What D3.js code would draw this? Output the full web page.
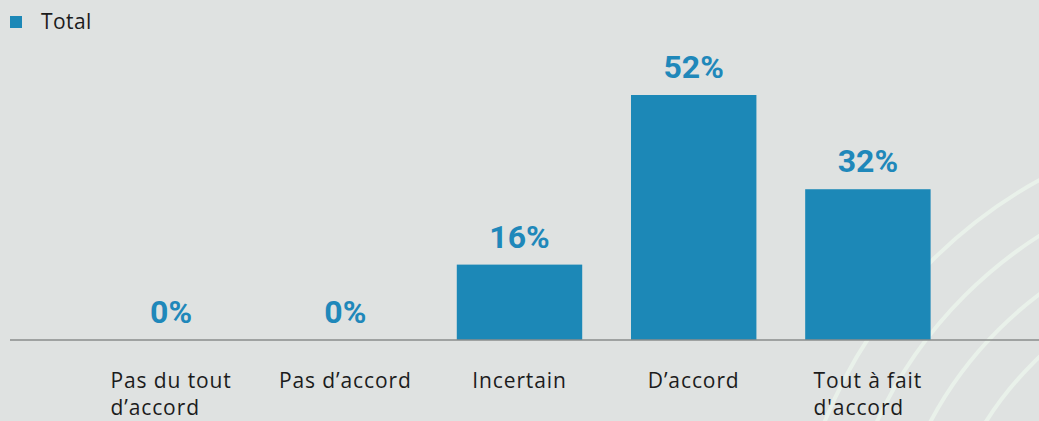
<!DOCTYPE html>
<html>
<head>
<meta charset="utf-8">
<script src="https://cdn.jsdelivr.net/npm/d3@7"></script>
<style>
  html, body { margin: 0; padding: 0; background: #dfe2e1; }
  svg { display: block; }
  .tick-label { font-family: "Open Sans", sans-serif; font-size: 21px; fill: #1c1c1c; letter-spacing: 0.9px; }
  .value-label { font-family: Roboto, "Open Sans", sans-serif; font-weight: 700; font-size: 32px; fill: #1f88ba; }
  .legend-label { font-family: "Open Sans", sans-serif; font-size: 21px; fill: #1c1c1c; letter-spacing: 0.4px; }
</style>
</head>
<body>
<div id="chart"></div>
<script>
// data
const categories = ["Pas du tout d’accord", "Pas d’accord", "Incertain", "D’accord", "Tout à fait d'accord"];
const tickLines = [["Pas du tout", "d’accord"], ["Pas d’accord"], ["Incertain"], ["D’accord"], ["Tout à fait", "d'accord"]];
const values = [0, 0, 16, 52, 32];
const seriesName = "Total";

const width = 1039, height = 421;
const baseY = 340;

const svg = d3.select("#chart")
    .append("svg")
    .attr("width", width)
    .attr("height", height);

svg.append("rect")
    .attr("width", width)
    .attr("height", height)
    .attr("fill", "#dfe2e1");

// decorative rings in the lower right corner
const rings = svg.append("g").attr("transform", "translate(1273,604)");
[484, 436, 388, 340].forEach(function (r) {
    rings.append("circle")
        .attr("r", r)
        .attr("fill", "none")
        .attr("stroke", "#e9f1ea")
        .attr("stroke-width", 4);
});

// scales
const x = d3.scaleBand()
    .domain(categories)
    .range([84, 955])
    .paddingInner(0.28)
    .paddingOuter(0.14);

const y = d3.scaleLinear()
    .domain([0, 52])
    .range([baseY, 95]);

// bars
svg.append("g")
    .selectAll("rect")
    .data(values)
    .join("rect")
    .attr("x", (d, i) => x(categories[i]))
    .attr("y", d => y(d))
    .attr("width", x.bandwidth())
    .attr("height", d => baseY - y(d))
    .attr("fill", "#1c88b7");

// value labels
svg.append("g")
    .selectAll("text")
    .data(values)
    .join("text")
    .attr("class", "value-label")
    .attr("x", (d, i) => x(categories[i]) + x.bandwidth() / 2)
    .attr("y", d => y(d) - 17)
    .attr("text-anchor", "middle")
    .text(d => d + "%");

// baseline
svg.append("line")
    .attr("x1", 10)
    .attr("x2", width)
    .attr("y1", baseY)
    .attr("y2", baseY)
    .attr("stroke", "#8a8c8b")
    .attr("stroke-width", 1.5);

// category labels, multi-line blocks centred under the band, lines left aligned
const ticks = svg.append("g")
    .selectAll("g")
    .data(categories)
    .join("g");

ticks.each(function (c, i) {
    const g = d3.select(this);
    const t = g.append("text")
        .attr("class", "tick-label")
        .attr("y", 388);
    tickLines[i].forEach(function (line, j) {
        t.append("tspan")
            .attr("x", 0)
            .attr("dy", j === 0 ? 0 : 27)
            .text(line);
    });
    const w = t.node().getBBox().width;
    g.attr("transform", "translate(" + (x(c) + x.bandwidth() / 2 - w / 2) + ",0)");
});

// legend
svg.append("rect")
    .attr("x", 10)
    .attr("y", 16)
    .attr("width", 12)
    .attr("height", 12)
    .attr("fill", "#1c88b7");

svg.append("text")
    .attr("class", "legend-label")
    .attr("x", 41)
    .attr("y", 29)
    .text(seriesName);
</script>
</body>
</html>
